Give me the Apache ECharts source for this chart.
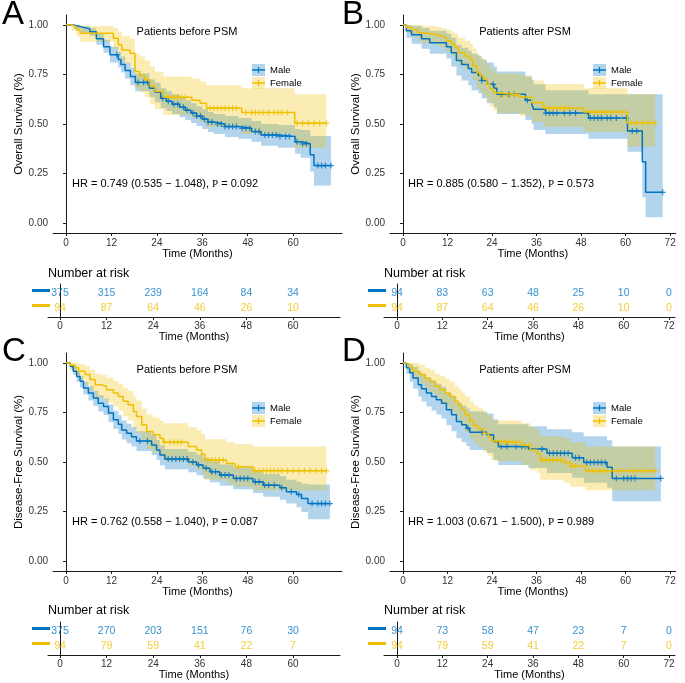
<!DOCTYPE html>
<html>
<head>
<meta charset="utf-8">
<script src="https://cdn.jsdelivr.net/npm/echarts@6/dist/echarts.min.js"></script>
<style>
html,body{margin:0;padding:0;background:#fff}
#main{width:685px;height:683px}
</style>
</head>
<body>
<div id="main"></div>
<script>
// ---- A: overall survival, before PSM ----
var osBeforeMaleTime  = [0, 2, 4, 6.3, 8, 9.9, 11.6, 13.8, 14.5, 15.6, 17, 18.3, 22, 23.5, 25, 26.5, 28, 30, 31.5, 33, 34.5, 36, 37.5, 39, 42, 45.5, 49, 51.5, 56, 60.5, 62, 64.5, 65.5];
var osBeforeMaleSurv  = [1, .99, .98, .966, .93, .89, .85, .825, .80, .77, .74, .71, .68, .66, .63, .615, .60, .585, .57, .555, .54, .525, .51, .50, .487, .478, .462, .445, .437, .41, .40, .345, .29];
var osBeforeMaleLower = [1, .98, .96, .945, .90, .86, .81, .785, .76, .73, .695, .665, .635, .61, .58, .565, .55, .535, .52, .505, .49, .475, .46, .45, .435, .425, .41, .39, .38, .35, .33, .26, .19];
var osBeforeMaleUpper = [1, 1, .995, .985, .955, .925, .89, .865, .84, .81, .785, .755, .725, .71, .68, .665, .65, .635, .62, .605, .59, .575, .56, .55, .54, .53, .515, .50, .495, .475, .47, .44, .44];
var osBeforeMaleCensor = [13.4, 19, 20.5, 21.5, 25.5, 27, 28.5, 29.5, 31, 32, 33.5, 34.5, 35.5, 36.5, 37.5, 38.5, 40, 41, 42, 43, 44, 45, 46.5, 47.5, 48.5, 50, 51, 52.5, 53.5, 54.5, 55.5, 56.5, 58, 59, 61, 62.5, 63.5, 66.5, 67.5, 68.5, 70];
var osBeforeFemaleTime  = [0, 1.5, 2.8, 3.7, 12.5, 13.8, 14.7, 16.9, 18.2, 19.5, 20.8, 22.2, 23.5, 25.7, 33.2, 35.4, 37.1, 46.4, 60.4];
var osBeforeFemaleSurv  = [1, .99, .975, .958, .933, .90, .874, .857, .765, .745, .723, .69, .664, .635, .62, .605, .58, .558, .504];
var osBeforeFemaleLower = [1, .97, .94, .915, .88, .84, .81, .79, .68, .66, .635, .60, .575, .545, .53, .51, .485, .45, .38];
var osBeforeFemaleUpper = [1, 1, 1, .995, .985, .965, .945, .93, .855, .84, .82, .79, .765, .74, .73, .715, .695, .68, .65];
var osBeforeFemaleCensor = [26.5, 27.5, 28.5, 29.5, 30.5, 31.5, 38, 39, 40, 41, 42, 43, 44, 45, 47.5, 49, 50, 51, 52, 53.5, 55, 56, 57, 58.5, 61, 62.5, 64, 65.5, 67, 68.8];
var riskTimesBefore = [0, 12, 24, 36, 48, 60];
var osBeforeRiskMale   = [375, 315, 239, 164, 84, 34];
var osBeforeRiskFemale = [94, 87, 64, 46, 26, 10];

// ---- B: overall survival, after PSM ----
var osAfterMaleTime  = [0, 0.9, 2.3, 5, 7.2, 11.7, 13, 14.4, 15.8, 17.6, 18.5, 20.3, 21.2, 22.6, 24.5, 25.3, 33, 34.7, 35.2, 38.4, 50, 60.5, 64.5, 65.4];
var osAfterMaleSurv  = [1, .97, .95, .93, .91, .89, .86, .82, .80, .78, .76, .745, .72, .70, .68, .65, .62, .60, .575, .555, .53, .465, .31, .155];
var osAfterMaleLower = [1, .935, .905, .88, .855, .83, .79, .745, .72, .695, .67, .655, .63, .605, .585, .55, .52, .50, .47, .45, .425, .36, .13, .03];
var osAfterMaleUpper = [1, 1, .995, .985, .97, .955, .935, .90, .885, .87, .855, .845, .825, .81, .79, .765, .74, .725, .70, .67, .65, .65, .65, .65];
var osAfterMaleCensor = [21.2, 24.3, 26.5, 28.5, 30, 33.5, 38.5, 39.5, 40.5, 41.5, 43.5, 45, 46.5, 50.5, 51.5, 52.5, 53.5, 55, 56, 57.5, 60.2, 61.8, 63, 70];
var osAfterFemaleTime  = [0, 0.9, 2.3, 4.1, 5.4, 9.0, 10.4, 11.7, 13.1, 14, 14.9, 16.7, 18.1, 18.8, 19.9, 20.8, 21.7, 22.6, 23.5, 24.4, 25.3, 31.6, 34.7, 37.9, 48.7, 60.5];
var osAfterFemaleSurv  = [1, .987, .975, .96, .953, .944, .936, .92, .903, .886, .86, .843, .826, .793, .76, .742, .726, .70, .678, .658, .648, .635, .607, .58, .56, .506];
var osAfterFemaleLower = [1, .96, .94, .92, .905, .895, .885, .865, .845, .825, .795, .775, .755, .72, .68, .66, .645, .615, .59, .57, .555, .54, .51, .485, .46, .385];
var osAfterFemaleUpper = [1, 1, 1, 1, .995, .99, .985, .975, .965, .955, .935, .92, .905, .88, .85, .835, .82, .80, .78, .765, .755, .745, .72, .70, .68, .65];
var osAfterFemaleCensor = [26, 27, 28, 29, 30, 31, 33, 38.5, 39.5, 40.5, 41.5, 42.5, 43.5, 44.5, 49.5, 50.5, 51.5, 52.5, 53.5, 54.5, 56, 57.5, 59, 61.5, 63, 64.5, 66, 68];
var riskTimesAfter = [0, 12, 24, 36, 48, 60, 72];
var osAfterRiskMale   = [94, 83, 63, 48, 25, 10, 0];
var osAfterRiskFemale = [94, 87, 64, 46, 26, 10, 0];

// ---- C: disease-free survival, before PSM ----
var dfsBeforeMaleTime  = [0, 1.1, 1.9, 2.8, 3.7, 4.6, 5.9, 7.2, 8.5, 9.9, 11.2, 12.5, 13.8, 14.7, 16, 17.3, 18.6, 22.6, 23.9, 24.8, 26.1, 32.3, 34.5, 36.2, 38, 40.6, 44.2, 49.4, 52.1, 56.5, 58.2, 60.9, 62.2, 63.9];
var dfsBeforeMaleSurv  = [1, .983, .958, .932, .907, .873, .848, .823, .797, .78, .747, .713, .691, .662, .645, .628, .606, .586, .561, .535, .515, .50, .485, .468, .451, .434, .417, .40, .383, .37, .35, .336, .316, .29];
var dfsBeforeMaleLower = [1, .97, .94, .905, .876, .84, .81, .783, .755, .737, .70, .666, .643, .613, .595, .578, .555, .535, .51, .484, .464, .448, .433, .415, .398, .38, .362, .343, .325, .31, .29, .272, .248, .211];
var dfsBeforeMaleUpper = [1, .996, .978, .955, .935, .905, .883, .86, .837, .82, .79, .758, .737, .709, .693, .677, .655, .636, .611, .585, .565, .551, .536, .52, .504, .488, .472, .456, .44, .428, .41, .40, .39, .387];
var dfsBeforeMaleCensor = [19.5, 21.5, 27, 28, 29, 30, 31, 32, 33.5, 35, 37, 38.5, 39.5, 41, 42, 43, 45, 46, 47, 48, 50, 51, 52.5, 53.5, 55, 57, 59.5, 61.5, 65, 66.5, 67.5, 68.5, 69.7];
var dfsBeforeFemaleTime  = [0, 1.1, 2.4, 3.3, 5, 6.3, 7.7, 9, 10.7, 12.5, 13.8, 15.1, 16.4, 17.8, 18.6, 20, 21.3, 23, 24.8, 25.7, 32.3, 34.5, 35.8, 36.7, 42.4, 44.6, 49.4];
var dfsBeforeFemaleSurv  = [1, .988, .975, .958, .941, .916, .89, .882, .865, .848, .831, .806, .789, .755, .73, .6875, .654, .637, .62, .60, .578, .561, .539, .51, .493, .476, .456];
var dfsBeforeFemaleLower = [1, .965, .94, .915, .89, .86, .83, .82, .80, .78, .76, .73, .71, .67, .645, .60, .565, .545, .527, .505, .48, .462, .44, .41, .39, .375, .358];
var dfsBeforeFemaleUpper = [1, 1, 1, .995, .985, .965, .945, .94, .925, .91, .895, .875, .86, .83, .81, .77, .74, .725, .71, .695, .675, .66, .64, .615, .60, .59, .578];
var dfsBeforeFemaleCensor = [26, 27.5, 28.5, 29.5, 30.5, 37.5, 38.5, 39.5, 40.5, 41.5, 45.5, 50, 51, 52, 53, 54, 55, 56, 57, 58.5, 60, 61.5, 63, 64.5, 66, 67.5, 68.8];
var dfsBeforeRiskMale   = [375, 270, 203, 151, 76, 30];
var dfsBeforeRiskFemale = [94, 79, 59, 41, 22, 7];

// ---- D: disease-free survival, after PSM ----
var dfsAfterMaleTime  = [0, 0.9, 1.8, 2.7, 4.1, 5, 6.3, 7.7, 9, 10.4, 11.7, 13.1, 14.4, 15.8, 17.1, 18, 22.6, 24.4, 25.7, 33.8, 38.8, 45.6, 48.7, 55, 56.4];
var dfsAfterMaleSurv  = [1, .975, .95, .924, .89, .87, .848, .831, .814, .797, .764, .738, .704, .6875, .67, .65, .637, .603, .578, .566, .544, .522, .498, .473, .417];
var dfsAfterMaleLower = [1, .945, .905, .87, .83, .805, .78, .76, .74, .72, .685, .655, .62, .60, .58, .56, .545, .51, .485, .47, .445, .42, .395, .37, .302];
var dfsAfterMaleUpper = [1, 1, .995, .98, .955, .94, .925, .91, .895, .88, .85, .83, .80, .785, .77, .755, .745, .715, .69, .68, .665, .65, .63, .61, .578];
var dfsAfterMaleCensor = [17.5, 21.3, 26.5, 28, 30.5, 32, 33, 37.5, 39.5, 40.5, 41.5, 42.5, 43.5, 44.5, 46.5, 47.5, 49.5, 50.5, 51.5, 52.5, 53.5, 54.5, 57.5, 59.5, 60.5, 61.5, 62.5, 69.5];
var dfsAfterFemaleTime  = [0, 0.9, 1.8, 2.7, 4.5, 5.9, 7.2, 8.6, 9.9, 11.3, 12.6, 14, 14.9, 15.8, 16.7, 18, 19, 20.3, 21.7, 23, 23.9, 24.8, 32, 34.3, 36.1, 37, 43.3, 45.1, 49.2];
var dfsAfterFemaleSurv  = [1, .99, .975, .958, .941, .924, .907, .882, .865, .848, .831, .806, .789, .764, .738, .708, .684, .667, .645, .628, .606, .60, .583, .561, .544, .51, .498, .48, .456];
var dfsAfterFemaleLower = [1, .97, .945, .92, .895, .875, .85, .82, .80, .78, .76, .73, .71, .68, .65, .62, .595, .575, .55, .53, .51, .505, .485, .46, .445, .41, .395, .375, .358];
var dfsAfterFemaleUpper = [1, 1, 1, 1, .99, .975, .965, .945, .935, .92, .905, .885, .87, .85, .83, .805, .785, .77, .75, .735, .715, .71, .695, .675, .66, .63, .62, .60, .578];
var dfsAfterFemaleCensor = [25.5, 26.5, 27.5, 28.5, 29.5, 30.5, 33, 34, 37.5, 38.5, 39.5, 40.5, 41.5, 42.5, 44, 45.5, 46.5, 50, 51, 52, 53, 54, 55, 56, 57.5, 59, 61, 62, 63, 64.5, 66, 68];
var dfsAfterRiskMale   = [94, 73, 58, 47, 23, 7, 0];
var dfsAfterRiskFemale = [94, 79, 59, 41, 22, 7, 0];

var C_MALE = '#0073C2', C_FEMALE = '#EFC000';
var BAND_MALE = 'rgba(0,115,194,0.3)', BAND_FEMALE = 'rgba(239,192,0,0.3)';
var FONT = '"Liberation Sans", Arial, Helvetica, sans-serif';
var AX = '#1a1a1a';
var PLUS = 'path://M4,0H6V4H10V6H6V10H4V6H0V4H4Z';

function group(color, band, t, s, lo, hi, cens) {
    return {color: color, band: band, t: t, s: s, lo: lo, hi: hi, cens: cens};
}

var panels = [
    {letter: 'A', lx: 2, ly: 15, ytitle: 'Overall Survival (%)', title: 'Patients before PSM', tx: 187, ty: 32,
     hr: 'HR = 0.749 (0.535 \u2212 1.048), ', pval: '0.092', hx: 72, hy: 184, legX: 252, legY: 64,
     plot: {left: 53, top: 15, width: 289, height: 218, xmin: -3.45, xmax: 72.9},
     risk: {left: 48, top: 284, width: 292, height: 33, xmin: -3.09, xmax: 72.1}, rtx: 48, rty: 273.5,
     ticks: riskTimesBefore, riskM: osBeforeRiskMale, riskF: osBeforeRiskFemale,
     male: group(C_MALE, BAND_MALE, osBeforeMaleTime, osBeforeMaleSurv, osBeforeMaleLower, osBeforeMaleUpper, osBeforeMaleCensor),
     female: group(C_FEMALE, BAND_FEMALE, osBeforeFemaleTime, osBeforeFemaleSurv, osBeforeFemaleLower, osBeforeFemaleUpper, osBeforeFemaleCensor)},
    {letter: 'B', lx: 342, ly: 15, ytitle: 'Overall Survival (%)', title: 'Patients after PSM', tx: 525, ty: 32,
     hr: 'HR = 0.885 (0.580 \u2212 1.352), ', pval: '0.573', hx: 408, hy: 184, legX: 593, legY: 64,
     plot: {left: 390, top: 15, width: 285.7, height: 218, xmin: -3.5, xmax: 73.5},
     risk: {left: 384, top: 284, width: 291, height: 33, xmin: -3.44, xmax: 73.58}, rtx: 384, rty: 273.5,
     ticks: riskTimesAfter, riskM: osAfterRiskMale, riskF: osAfterRiskFemale,
     male: group(C_MALE, BAND_MALE, osAfterMaleTime, osAfterMaleSurv, osAfterMaleLower, osAfterMaleUpper, osAfterMaleCensor),
     female: group(C_FEMALE, BAND_FEMALE, osAfterFemaleTime, osAfterFemaleSurv, osAfterFemaleLower, osAfterFemaleUpper, osAfterFemaleCensor)},
    {letter: 'C', lx: 2, ly: 352, ytitle: 'Disease-Free Survival (%)', title: 'Patients before PSM', tx: 187, ty: 370,
     hr: 'HR = 0.762 (0.558 \u2212 1.040), ', pval: '0.087', hx: 72, hy: 522, legX: 252, legY: 402,
     plot: {left: 53, top: 353, width: 289, height: 218, xmin: -3.45, xmax: 72.9},
     risk: {left: 48, top: 622, width: 292, height: 33, xmin: -3.09, xmax: 72.1}, rtx: 48, rty: 611,
     ticks: riskTimesBefore, riskM: dfsBeforeRiskMale, riskF: dfsBeforeRiskFemale,
     male: group(C_MALE, BAND_MALE, dfsBeforeMaleTime, dfsBeforeMaleSurv, dfsBeforeMaleLower, dfsBeforeMaleUpper, dfsBeforeMaleCensor),
     female: group(C_FEMALE, BAND_FEMALE, dfsBeforeFemaleTime, dfsBeforeFemaleSurv, dfsBeforeFemaleLower, dfsBeforeFemaleUpper, dfsBeforeFemaleCensor)},
    {letter: 'D', lx: 342, ly: 352, ytitle: 'Disease-Free Survival (%)', title: 'Patients after PSM', tx: 525, ty: 370,
     hr: 'HR = 1.003 (0.671 \u2212 1.500), ', pval: '0.989', hx: 408, hy: 522, legX: 593, legY: 402,
     plot: {left: 390, top: 353, width: 285.7, height: 218, xmin: -3.5, xmax: 73.5},
     risk: {left: 384, top: 622, width: 291, height: 33, xmin: -3.44, xmax: 73.58}, rtx: 384, rty: 611,
     ticks: riskTimesAfter, riskM: dfsAfterRiskMale, riskF: dfsAfterRiskFemale,
     male: group(C_MALE, BAND_MALE, dfsAfterMaleTime, dfsAfterMaleSurv, dfsAfterMaleLower, dfsAfterMaleUpper, dfsAfterMaleCensor),
     female: group(C_FEMALE, BAND_FEMALE, dfsAfterFemaleTime, dfsAfterFemaleSurv, dfsAfterFemaleLower, dfsAfterFemaleUpper, dfsAfterFemaleCensor)}
];

function lastOf(a) { return a[a.length - 1]; }
function survAt(g, x) {
    var v = g.s[0];
    for (var i = 0; i < g.t.length; i++) if (g.t[i] <= x) v = g.s[i];
    return v;
}
// one row per step: [start, end, lower, upper]
function bandRows(g) {
    var end = lastOf(g.cens);
    return g.t.map(function (x, i) {
        return [x, i + 1 < g.t.length ? g.t[i + 1] : end, g.lo[i], g.hi[i]];
    });
}

var grids = [], xAxes = [], yAxes = [], series = [], elements = [];

function xAxisFor(gi, box, ticks, margin, gap) {
    return {
        gridIndex: gi, type: 'value', min: box.xmin, max: box.xmax,
        name: 'Time (Months)', nameLocation: 'middle', nameGap: gap,
        nameTextStyle: {fontSize: 11, color: '#000', fontFamily: FONT},
        axisLine: {onZero: false, lineStyle: {color: AX, width: 1}},
        axisTick: {show: true, length: 3, customValues: ticks, lineStyle: {color: AX}},
        axisLabel: {customValues: ticks, margin: margin, fontSize: 10, color: '#333', fontFamily: FONT},
        splitLine: {show: false}
    };
}

panels.forEach(function (p, k) {
    // survival plot
    var gi = grids.length;
    grids.push({left: p.plot.left, top: p.plot.top, width: p.plot.width, height: p.plot.height, outerBoundsMode: 'none', containLabel: false});
    xAxes.push(xAxisFor(gi, p.plot, p.ticks, 5, 14.5));
    yAxes.push({
        gridIndex: gi, type: 'value', min: -0.05, max: 1.05,
        name: p.ytitle, nameLocation: 'middle', nameGap: 28, nameRotate: 90,
        nameTextStyle: {fontSize: 11.5, color: '#000', fontFamily: FONT},
        axisLine: {show: true, lineStyle: {color: AX, width: 1}},
        axisTick: {show: true, length: 3, customValues: [0, 0.25, 0.5, 0.75, 1], lineStyle: {color: AX}},
        axisLabel: {customValues: [0, 0.25, 0.5, 0.75, 1], margin: 5, fontSize: 10, color: '#333', fontFamily: FONT,
                    formatter: function (v) { return v.toFixed(2); }},
        splitLine: {show: false}
    });
    var groups = [p.male, p.female];
    groups.forEach(function (g) {
        var line = g.t.map(function (x, i) { return [x, g.s[i]]; });
        line.push([lastOf(g.cens), lastOf(g.s)]);
        series.push({type: 'line', step: 'end', xAxisIndex: gi, yAxisIndex: gi, data: line, symbol: 'none',
                     lineStyle: {color: g.color, width: 1.5}, silent: true, animation: false});
    });
    groups.forEach(function (g) {
        series.push({type: 'scatter', xAxisIndex: gi, yAxisIndex: gi, symbol: PLUS, symbolSize: 6,
                     itemStyle: {color: g.color}, silent: true, animation: false,
                     data: g.cens.map(function (x) { return [x, survAt(g, x)]; })});
    });
    // confidence bands: one stepped polygon per group, placed with the axis scales
    groups.forEach(function (g) {
        var rows = bandRows(g);
        series.push({
            type: 'custom', xAxisIndex: gi, yAxisIndex: gi, silent: true, animation: false,
            data: rows,
            encode: {x: [0, 1], y: [2, 3]},
            renderItem: function (params, api) {
                if (params.dataIndex !== 0) return null;
                var top = [], bottom = [];
                rows.forEach(function (r) {
                    top.push(api.coord([r[0], r[3]]), api.coord([r[1], r[3]]));
                    bottom.push(api.coord([r[0], r[2]]), api.coord([r[1], r[2]]));
                });
                return {type: 'polygon', shape: {points: top.concat(bottom.reverse())},
                        style: {fill: g.band}};
            }
        });
    });

    // risk table
    var ri = grids.length;
    grids.push({left: p.risk.left, top: p.risk.top, width: p.risk.width, height: p.risk.height, outerBoundsMode: 'none', containLabel: false});
    xAxes.push(xAxisFor(ri, p.risk, p.ticks, 4, 14));
    yAxes.push({gridIndex: ri, type: 'value', min: 0.45, max: 2.55,
                axisLine: {show: true, lineStyle: {color: AX, width: 1}},
                axisTick: {show: false}, axisLabel: {show: false}, splitLine: {show: false}});
    [[p.riskM, 2, C_MALE], [p.riskF, 1, C_FEMALE]].forEach(function (r) {
        series.push({type: 'scatter', xAxisIndex: ri, yAxisIndex: ri, symbolSize: 1,
                     itemStyle: {color: 'rgba(0,0,0,0)'}, silent: true, animation: false,
                     label: {show: true, position: 'inside', color: r[2], fontSize: 10.5, fontFamily: FONT,
                             formatter: function (q) { return q.value[2]; }},
                     data: p.ticks.map(function (t, i) { return [t, r[1], r[0][i]]; })});
    });

    // annotations
    elements.push({type: 'text', x: p.lx, y: p.ly, style: {text: p.letter, fontSize: 33, fontFamily: FONT, fill: '#000', align: 'left', verticalAlign: 'middle'}});
    elements.push({type: 'text', x: p.tx, y: p.ty, style: {text: p.title, fontSize: 11, fontFamily: FONT, fill: '#000', align: 'center', verticalAlign: 'middle'}});
    elements.push({type: 'text', x: p.hx, y: p.hy, style: {
        text: p.hr + '{p|P} = ' + p.pval, fontSize: 11, fontFamily: FONT, fill: '#000', align: 'left', verticalAlign: 'middle',
        rich: {p: {fontSize: 11, fontFamily: '"Liberation Serif", "DejaVu Serif", serif', fill: '#000'}}}});
    elements.push({type: 'text', x: p.rtx, y: p.rty, style: {text: 'Number at risk', fontSize: 12.5, fontFamily: FONT, fill: '#000', align: 'left', verticalAlign: 'middle'}});
    // legend keys
    [[C_MALE, BAND_MALE, 'Male', 0], [C_FEMALE, BAND_FEMALE, 'Female', 13]].forEach(function (l) {
        var y0 = p.legY + l[3];
        elements.push({type: 'rect', shape: {x: p.legX, y: y0, width: 13, height: 12}, style: {fill: l[1]}});
        elements.push({type: 'line', shape: {x1: p.legX, y1: y0 + 6, x2: p.legX + 13, y2: y0 + 6}, style: {stroke: l[0], lineWidth: 1.5}});
        elements.push({type: 'line', shape: {x1: p.legX + 6.5, y1: y0 + 3, x2: p.legX + 6.5, y2: y0 + 9}, style: {stroke: l[0], lineWidth: 1.2}});
        elements.push({type: 'text', x: p.legX + 18, y: y0 + 6.3, style: {text: l[2], fontSize: 9.5, fontFamily: FONT, fill: '#000', align: 'left', verticalAlign: 'middle'}});
    });
    // colour strips of the risk table rows
    elements.push({type: 'rect', shape: {x: p.risk.left - 16, y: p.risk.top + 5, width: 18, height: 3}, style: {fill: C_MALE}});
    elements.push({type: 'rect', shape: {x: p.risk.left - 16, y: p.risk.top + 20, width: 18, height: 3}, style: {fill: C_FEMALE}});
});

var chart = echarts.init(document.getElementById('main'), null, {renderer: 'canvas'});
chart.setOption({
    animation: false,
    backgroundColor: '#fff',
    grid: grids,
    xAxis: xAxes,
    yAxis: yAxes,
    series: series,
    graphic: {elements: elements}
});
</script>
</body>
</html>
